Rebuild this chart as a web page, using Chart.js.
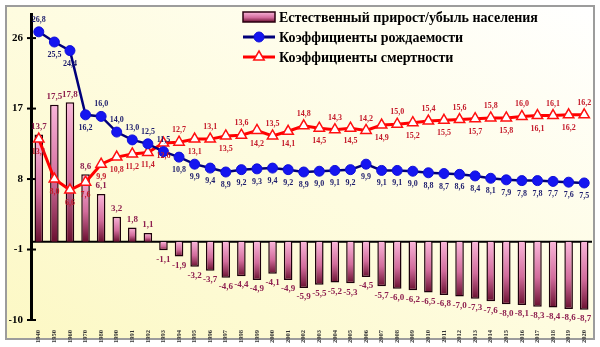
<!DOCTYPE html>
<html>
<head>
<meta charset="utf-8">
<script src="https://cdn.jsdelivr.net/npm/chart.js@4.4.0/dist/chart.umd.min.js"></script>
<style>
body { margin: 0; background: #fff; }
#frame { position: absolute; left: 5px; top: 5px; width: 586px; height: 331px; border: 2px solid #9c9c9c;
  background: linear-gradient(30deg, #fcf8c4 0%, #fefce0 50%, #ffffff 100%); }
#wrap { position: absolute; left: 0; top: 0; width: 600px; height: 347px; }
</style>
</head>
<body>
<div id="frame"></div>
<div id="wrap"><canvas id="myChart" width="600" height="347"></canvas></div>
<script>
// years on the x axis
var years = ['1940','1950','1960','1970','1980','1990','1991','1992','1993','1994','1995','1996',
  '1997','1998','1999','2000','2001','2002','2003','2004','2005','2006','2007','2008','2009',
  '2010','2011','2012','2013','2014','2015','2016','2017','2018','2019','2020'];

// natural increase / decrease (per 1000)
var growth = [13.7,17.5,17.8,8.6,6.1,3.2,1.8,1.1,-1.1,-1.9,-3.2,-3.7,-4.6,-4.4,-4.9,-4.1,-4.9,
  -5.9,-5.5,-5.2,-5.3,-4.5,-5.7,-6.0,-6.2,-6.5,-6.8,-7.0,-7.3,-7.6,-8.0,-8.1,-8.3,-8.4,-8.6,-8.7];

// birth rate
var birth = [26.8,25.5,24.4,16.2,16.0,14.0,13.0,12.5,11.5,10.8,9.9,9.4,8.9,9.2,9.3,9.4,9.2,
  8.9,9.0,9.1,9.2,9.9,9.1,9.1,9.0,8.8,8.7,8.6,8.4,8.1,7.9,7.8,7.8,7.7,7.6,7.5];

// death rate
var death = [13.1,8.0,6.6,7.6,9.9,10.8,11.2,11.4,12.6,12.7,13.1,13.1,13.5,13.6,14.2,13.5,14.1,
  14.8,14.5,14.3,14.5,14.2,14.9,15.0,15.2,15.4,15.5,15.6,15.7,15.8,15.8,16.0,16.1,16.1,16.2,16.2];

var yTicks = [-10, -1, 8, 17, 26];

var serif = '"Liberation Serif", "Times New Roman", serif';

function fmt(v) {
    return v.toFixed(1).replace('.', ',');
}

// where the value text sits relative to each point
function birthSide(i) {
    return (i === 0 || (i >= 4 && i <= 8)) ? 'up' : 'down';
}
function deathSide(i) {
    if (i < 9) return 'down';
    return (i % 2 === 1) ? 'up' : 'down';
}

function barGradient(ctx, top, bottom) {
    var g = ctx.createLinearGradient(0, top, 0, bottom);
    g.addColorStop(0, '#fab6da');
    g.addColorStop(0.55, '#d26c9c');
    g.addColorStop(1, '#6a1030');
    return g;
}

// zero line and tick marks running across the y axis
var axisExtras = {
    id: 'axisExtras',
    beforeDatasetsDraw(chart) {
        var ctx = chart.ctx, area = chart.chartArea, y = chart.scales.y;
        var y0 = y.getPixelForValue(0);
        ctx.save();
        ctx.strokeStyle = '#000';
        ctx.lineWidth = 2;
        ctx.beginPath();
        ctx.moveTo(area.left, y0);
        ctx.lineTo(area.right, y0);
        ctx.stroke();
        yTicks.forEach(function (t) {
            var p = y.getPixelForValue(t);
            ctx.beginPath();
            ctx.moveTo(area.left - 4, p);
            ctx.lineTo(area.left + 5, p);
            ctx.stroke();
        });
        ctx.restore();
    }
};

// value text next to every bar and point
var valueLabels = {
    id: 'valueLabels',
    afterDatasetsDraw(chart) {
        var ctx = chart.ctx;
        ctx.save();
        ctx.textAlign = 'center';
        ctx.textBaseline = 'middle';
        chart.data.datasets.forEach(function (ds, di) {
            var meta = chart.getDatasetMeta(di);
            ctx.fillStyle = ds.labelColor;
            ctx.font = 'bold ' + ds.labelSize + 'px ' + serif;
            meta.data.forEach(function (el, i) {
                var v = ds.data[i];
                var y;
                if (ds.type === 'bar') {
                    y = v >= 0 ? el.y - 8 : el.y + 9;
                } else {
                    y = ds.labelSide(i) === 'up' ? el.y - 12 : el.y + 13;
                }
                ctx.fillText(fmt(v), el.x, y);
            });
        });
        ctx.restore();
    }
};

// legend in the upper right of the plot
var boxLegend = {
    id: 'boxLegend',
    afterDraw(chart) {
        var ctx = chart.ctx;
        var x0 = 243, textX = 279, rows = [17, 37, 57];
        ctx.save();
        ctx.font = 'bold 14px ' + serif;
        ctx.textBaseline = 'middle';
        chart.data.datasets.forEach(function (ds, i) {
            var cy = rows[i];
            if (ds.type === 'bar') {
                ctx.fillStyle = barGradient(ctx, cy - 5, cy + 5);
                ctx.fillRect(x0, cy - 5, 32, 10);
                ctx.strokeStyle = '#2a0010';
                ctx.lineWidth = 1.5;
                ctx.strokeRect(x0, cy - 5, 32, 10);
            } else {
                ctx.strokeStyle = ds.borderColor;
                ctx.lineWidth = 3;
                ctx.beginPath();
                ctx.moveTo(x0, cy);
                ctx.lineTo(x0 + 32, cy);
                ctx.stroke();
                ctx.fillStyle = ds.pointBackgroundColor;
                ctx.strokeStyle = ds.pointBorderColor;
                ctx.lineWidth = ds.pointBorderWidth;
                ctx.beginPath();
                if (ds.pointStyle === 'triangle') {
                    var r = ds.pointRadius;
                    ctx.moveTo(x0 + 16, cy - r);
                    ctx.lineTo(x0 + 16 + r * 0.87, cy + r * 0.5);
                    ctx.lineTo(x0 + 16 - r * 0.87, cy + r * 0.5);
                    ctx.closePath();
                } else {
                    ctx.arc(x0 + 16, cy, ds.pointRadius, 0, Math.PI * 2);
                }
                ctx.fill();
                ctx.stroke();
            }
            ctx.fillStyle = '#000';
            ctx.fillText(ds.label, textX, cy + 1);
        });
        ctx.restore();
    }
};

var ctx = document.getElementById('myChart').getContext('2d');
var myChart = new Chart(ctx, {
    data: {
        labels: years,
        datasets: [{
            type: 'bar',
            label: 'Естественный прирост/убыль населения',
            data: growth,
            order: 2,
            backgroundColor: function (c) {
                var chart = c.chart;
                if (!chart.chartArea || c.raw === undefined) return '#d26c9c';
                var y = chart.scales.y;
                var top = y.getPixelForValue(Math.max(c.raw, 0));
                var bottom = y.getPixelForValue(Math.min(c.raw, 0));
                if (bottom - top < 1) bottom = top + 1;
                return barGradient(chart.ctx, top, bottom);
            },
            borderColor: '#1e000c',
            borderWidth: 1.5,
            barPercentage: 0.55,
            categoryPercentage: 1,
            labelColor: '#8e1f4f',
            labelSize: 9
        }, {
            type: 'line',
            label: 'Коэффициенты рождаемости',
            data: birth,
            order: 0,
            borderColor: '#00007a',
            borderWidth: 2.5,
            pointStyle: 'circle',
            pointRadius: 5,
            pointBackgroundColor: '#1515f0',
            pointBorderColor: '#1010d8',
            pointBorderWidth: 1,
            labelColor: '#1c1c6c',
            labelSize: 8,
            labelSide: birthSide
        }, {
            type: 'line',
            label: 'Коэффициенты смертности',
            data: death,
            order: 1,
            borderColor: '#ff0000',
            borderWidth: 3,
            pointStyle: 'triangle',
            pointRadius: 6,
            pointBackgroundColor: '#ffffff',
            pointBorderColor: '#ff1010',
            pointBorderWidth: 1.5,
            labelColor: '#c41a2a',
            labelSize: 8,
            labelSide: deathSide
        }]
    },
    options: {
        responsive: false,
        animation: false,
        layout: { padding: { left: 9, right: 8, top: 8, bottom: 0 } },
        plugins: {
            legend: { display: false },
            tooltip: { enabled: false }
        },
        scales: {
            x: {
                offset: true,
                grid: { display: false },
                border: { display: false },
                ticks: {
                    autoSkip: false,
                    minRotation: 90,
                    maxRotation: 90,
                    padding: 2,
                    color: '#333',
                    font: { family: serif, size: 6.5, weight: 'bold' }
                },
                afterFit: function (s) { s.height = 27; }
            },
            y: {
                min: -10,
                max: 29,
                afterBuildTicks: function (s) {
                    s.ticks = yTicks.map(function (v) { return { value: v }; });
                },
                grid: { drawOnChartArea: false, drawTicks: false },
                border: { display: true, color: '#000', width: 3 },
                ticks: {
                    padding: 8,
                    color: '#000',
                    font: { family: serif, size: 11, weight: 'bold' }
                },
                afterFit: function (s) { s.width = 22; }
            }
        }
    },
    plugins: [axisExtras, valueLabels, boxLegend]
});
</script>
</body>
</html>
